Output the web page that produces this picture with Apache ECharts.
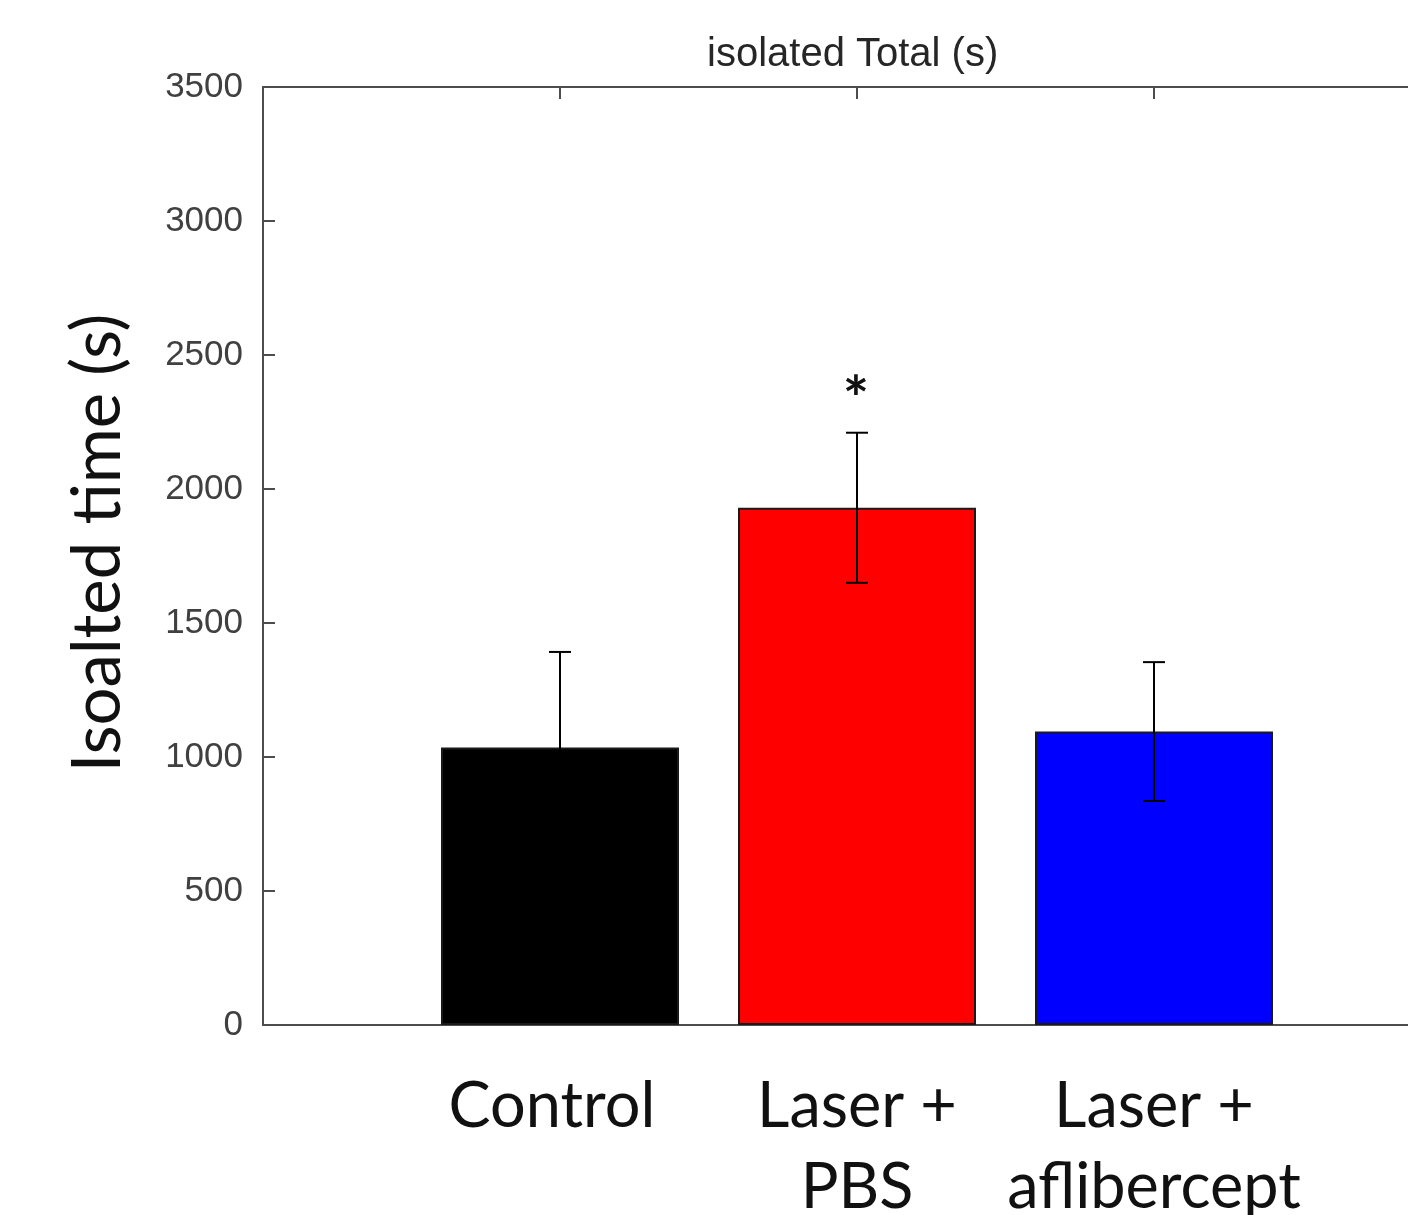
<!DOCTYPE html>
<html>
<head>
<meta charset="utf-8">
<script src="https://cdn.jsdelivr.net/npm/echarts@6/dist/echarts.min.js"></script>
<style>
html, body { margin: 0; padding: 0; background: #fff; }
#chart { width: 1408px; height: 1215px; }
</style>
</head>
<body>
<div id="chart"></div>
<script>
// groups, bar positions on the x axis
var categories = ['Control ', 'Laser +\nPBS', 'Laser +\naflibercept'];
var positions = [1, 2, 3];
// mean isolated time (s) and error
var means = [1035, 1930, 1095];
var errors = [357, 280, 259];
// significance marks
var marks = ['', '*', ''];
var yTicks = [0, 500, 1000, 1500, 2000, 2500, 3000, 3500];
var barColors = ['#000000', '#ff0000', '#0000ff'];

window.onload = function() {
	var chart = echarts.init(document.getElementById('chart'));

	var axisColor = '#4d4d4d';

	var barData = positions.map(function(p, i) {
		return {
			value: [p, means[i]],
			itemStyle: { color: barColors[i] }
		};
	});
	var errData = positions.map(function(p, i) {
		return [p, means[i] - errors[i], means[i] + errors[i], marks[i]];
	});

	var option = {
		animation: false,
		backgroundColor: '#ffffff',
		title: {
			text: 'isolated Total (s)',
			left: 702,
			top: 30,
			textStyle: {
				fontFamily: 'Liberation Sans',
				fontSize: 40,
				fontWeight: 'normal',
				color: '#262626'
			}
		},
		grid: {
			left: 263,
			top: 87,
			width: 1188,
			height: 938,
			containLabel: false,
			outerBoundsMode: 'none'
		},
		xAxis: [{
			type: 'value',
			min: 0,
			max: 4,
			interval: 1,
			position: 'bottom',
			splitLine: { show: false },
			axisLine: { lineStyle: { color: axisColor, width: 2 } },
			axisTick: {
				inside: true,
				length: 12,
				customValues: positions,
				lineStyle: { color: axisColor, width: 2 }
			},
			axisLabel: {
				customValues: positions,
				formatter: function(v) {
					return categories[positions.indexOf(v)] || '';
				},
				margin: 41,
				fontFamily: 'Lato',
				fontSize: 63,
				lineHeight: 81,
				color: '#111111'
			}
		}, {
			type: 'value',
			min: 0,
			max: 4,
			interval: 1,
			position: 'top',
			splitLine: { show: false },
			axisLine: { lineStyle: { color: axisColor, width: 2 } },
			axisTick: {
				inside: true,
				length: 12,
				customValues: positions,
				lineStyle: { color: axisColor, width: 2 }
			},
			axisLabel: { show: false }
		}],
		yAxis: {
			type: 'value',
			min: yTicks[0],
			max: yTicks[yTicks.length - 1],
			interval: 500,
			splitLine: { show: false },
			axisLine: { show: true, lineStyle: { color: axisColor, width: 2 } },
			axisTick: {
				show: true,
				inside: true,
				length: 12,
				lineStyle: { color: axisColor, width: 2 }
			},
			axisLabel: {
				margin: 20,
				formatter: function(v) { return String(v); },
				fontFamily: 'Liberation Sans',
				fontSize: 35,
				padding: [6, 0, 0, 0],
				color: '#404040'
			},
			name: 'Isoalted time (s)',
			nameLocation: 'middle',
			nameRotate: 90,
			nameGap: 131,
			nameTextStyle: {
				fontFamily: 'Lato',
				fontSize: 67,
				padding: [0, 0, 0, 26],
				color: '#111111'
			}
		},
		series: [{
			type: 'bar',
			barWidth: 238,
			data: barData,
			itemStyle: {
				borderColor: '#1a1a1a',
				borderWidth: 2
			}
		}, {
			type: 'custom',
			data: errData,
			z: 10,
			renderItem: function(params, api) {
				var x = api.value(0);
				var lo = api.coord([x, api.value(1)]);
				var hi = api.coord([x, api.value(2)]);
				var cap = 11;
				var st = { stroke: '#000000', lineWidth: 2 };
				var children = [
					{ type: 'line', shape: { x1: lo[0], y1: lo[1], x2: hi[0], y2: hi[1] }, style: st },
					{ type: 'line', shape: { x1: lo[0] - cap, y1: lo[1], x2: lo[0] + cap, y2: lo[1] }, style: st },
					{ type: 'line', shape: { x1: hi[0] - cap, y1: hi[1], x2: hi[0] + cap, y2: hi[1] }, style: st }
				];
				var mk = errData[params.dataIndex][3];
				if (mk) {
					children.push({
						type: 'text',
						x: hi[0] - 1,
						y: hi[1] - 32,
						style: {
							text: mk,
							font: 'bold 62px Lato',
							fill: '#111111',
							align: 'center',
							verticalAlign: 'middle'
						}
					});
				}
				return { type: 'group', children: children };
			}
		}]
	};
	chart.setOption(option);
};
</script>
</body>
</html>
